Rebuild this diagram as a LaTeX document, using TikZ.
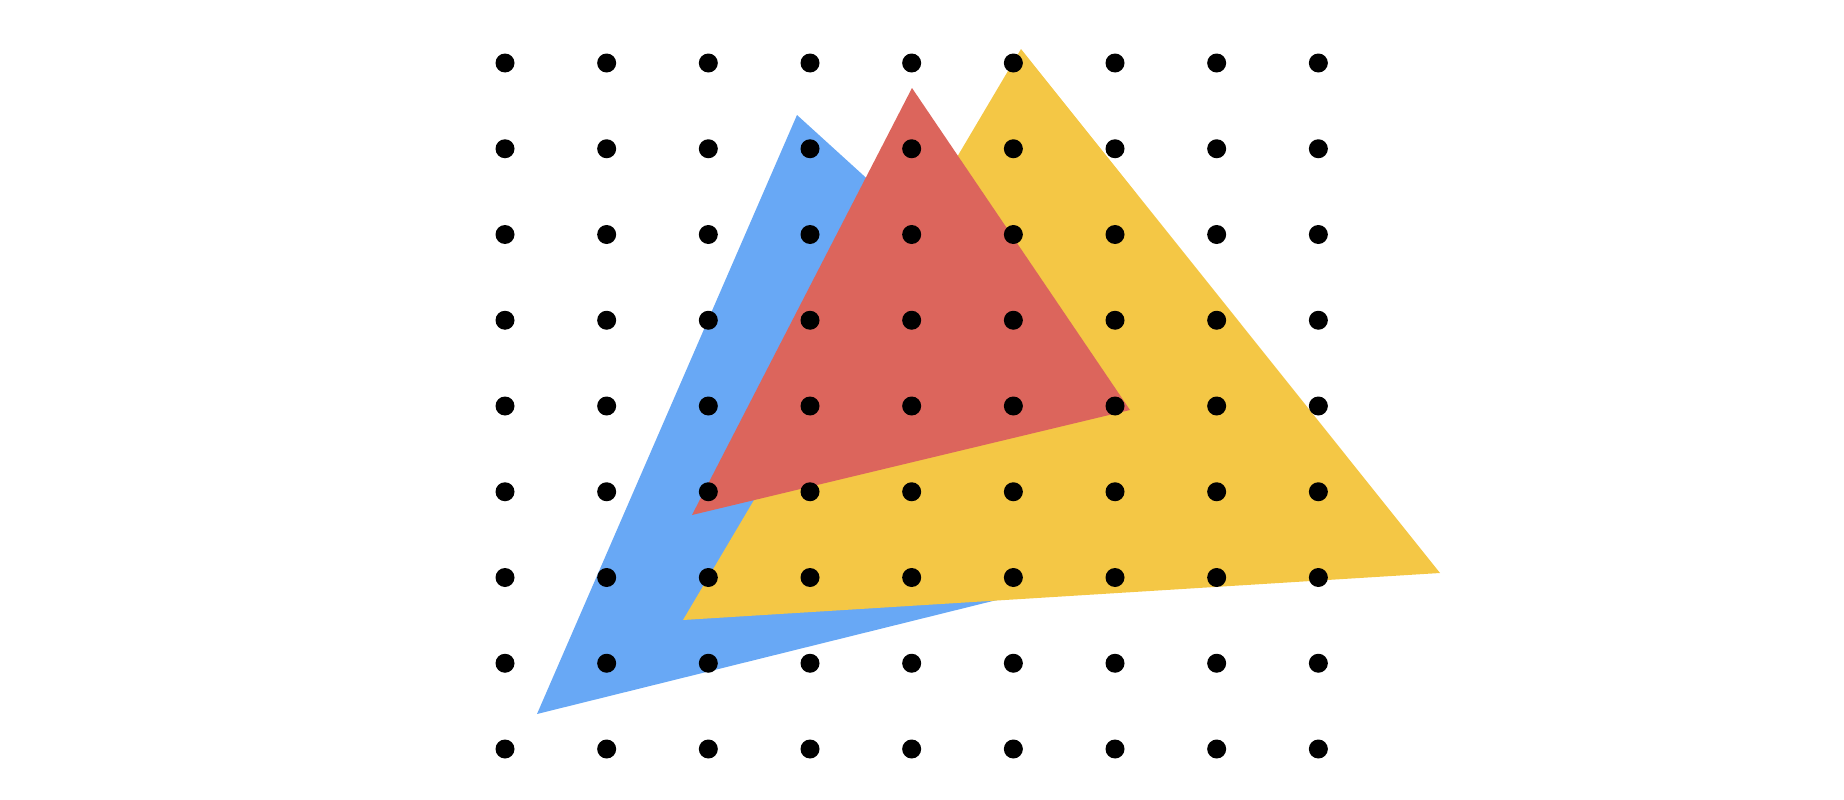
\documentclass[tikz,border=0pt]{standalone}
\usepackage{xcolor}
\usepackage{tikz}

\definecolor{triblue}{HTML}{68A8F5}
\definecolor{triyellow}{HTML}{F4C745}
\definecolor{trired}{HTML}{DC655C}

\begin{document}
\begin{tikzpicture}[x=0.01cm, y=-0.01cm]
    % Styles
    \tikzstyle{tri} = [draw=none]
    \tikzstyle{dot} = [fill=black]

    % Canvas
    \useasboundingbox (0,0) rectangle (1844,800);

    % Corners
    \coordinate (bluetop) at (797,115);
    \coordinate (blueleft) at (537,714);
    \coordinate (blueright) at (1259,535);
    \coordinate (yellowtop) at (1021,49);
    \coordinate (yellowleft) at (683,620);
    \coordinate (yellowright) at (1440,573);
    \coordinate (redtop) at (912,88);
    \coordinate (redleft) at (692,515);
    \coordinate (redright) at (1130,410);

    % Triangles
    \fill[tri, triblue] (bluetop) -- (blueleft) -- (blueright) -- cycle;
    \fill[tri, triyellow] (yellowtop) -- (yellowleft) -- (yellowright) -- cycle;
    \fill[tri, trired] (redtop) -- (redleft) -- (redright) -- cycle;

    % Dot grid
    \foreach \i in {0,...,8} {
        \foreach \j in {0,...,8} {
            \fill[dot] (505+101.67*\i, 63+85.75*\j) circle (9.5);
        }
    }
\end{tikzpicture}
\end{document}
